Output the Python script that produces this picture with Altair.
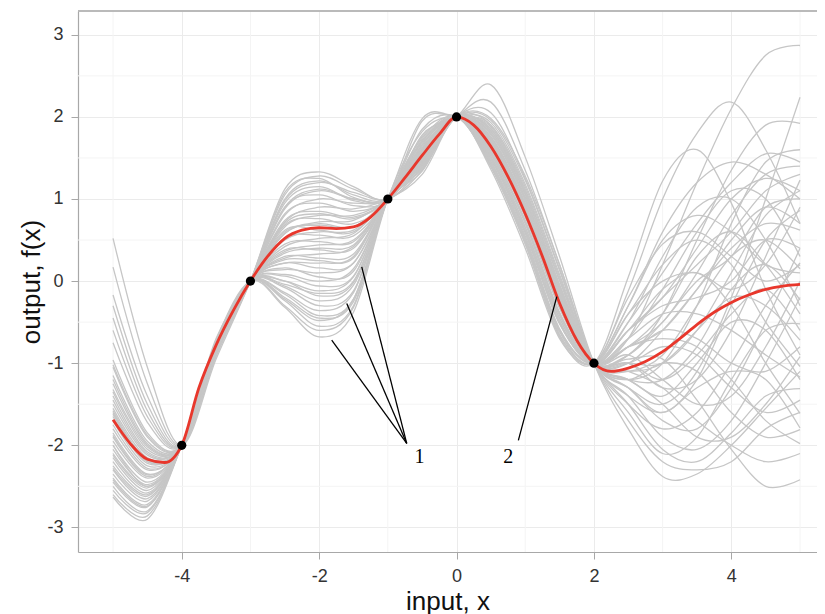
import altair as alt
import pandas as pd

# ---------------- data ----------------
x_grid = [-5.0, -4.5, -4.0, -3.5, -3.0, -2.5, -2.0, -1.5, -1.0, -0.5, 0.0,
          0.5, 1.0, 1.5, 2.0, 2.5, 3.0, 3.5, 4.0, 4.5, 5.0]

obs_x = [-4.0, -3.0, -1.0, 0.0, 2.0]
obs_y = [-2.0, 0.0, 1.0, 2.0, -1.0]

mean_x = [-5.0, -4.75, -4.5, -4.25, -4.0, -3.75, -3.5, -3.25, -3.0, -2.75, -2.5,
          -2.25, -2.0, -1.75, -1.5, -1.25, -1.0, -0.75, -0.5, -0.25, 0.0,
          0.25, 0.5, 0.75, 1.0, 1.25, 1.5, 1.75, 2.0, 2.25, 2.5,
          2.75, 3.0, 3.25, 3.5, 3.75, 4.0, 4.25, 4.5, 4.75, 5.0]
mean_y = [-1.69, -1.98, -2.17, -2.21, -2.0, -1.3, -0.78, -0.36, 0.0, 0.3, 0.52,
          0.62, 0.65, 0.64, 0.66, 0.78, 1.0, 1.26, 1.53, 1.79, 2.0,
          1.9, 1.64, 1.27, 0.82, 0.3, -0.27, -0.72, -1.0, -1.1, -1.06,
          -0.98, -0.86, -0.7, -0.53, -0.38, -0.26, -0.17, -0.1, -0.06, -0.04]

# sample values at x = -5, -4.5, -3.5
left_seg = [
    (0.52, -1.05, -0.95), (0.17, -1.25, -0.92), (-0.17, -1.4, -0.9), (-0.3, -1.5, -0.88),
    (-0.6, -1.65, -0.86), (-0.75, -1.72, -0.85), (-0.96, -1.85, -0.84), (-1.05, -1.9, -0.8),
    (-1.15, -1.95, -0.83), (-1.25, -2.0, -0.82), (-1.32, -2.02, -0.78), (-1.4, -2.08, -0.84),
    (-1.45, -2.1, -0.8), (-1.5, -2.12, -0.86), (-1.55, -2.15, -0.76), (-1.6, -2.2, -0.82),
    (-1.65, -2.22, -0.88), (-1.7, -2.25, -0.8), (-1.75, -2.28, -0.78), (-1.8, -2.3, -0.85),
    (-1.85, -2.35, -0.8), (-1.9, -2.38, -0.9), (-1.95, -2.4, -0.75), (-2.0, -2.45, -0.82),
    (-2.05, -2.48, -0.8), (-2.1, -2.5, -0.86), (-2.15, -2.55, -0.78), (-2.2, -2.58, -0.84),
    (-2.25, -2.6, -0.8), (-2.3, -2.65, -0.76), (-2.35, -2.68, -0.82), (-2.4, -2.72, -0.85),
    (-2.45, -2.75, -0.8), (-2.5, -2.8, -0.78), (-2.55, -2.82, -0.74), (-2.6, -2.86, -0.8),
    (-2.63, -2.9, -0.77), (-1.35, -2.05, -0.9), (-1.62, -2.2, -0.72), (-2.0, -2.5, -0.7),
    (-1.2, -1.98, -0.8), (-1.88, -2.36, -0.84), (-2.28, -2.62, -0.79), (-0.45, -1.58, -0.87),
    (-1.58, -2.18, -0.81), (-2.42, -2.74, -0.83), (-1.02, -1.88, -0.86), (-2.12, -2.52, -0.8),
]

# sample values at x = -2.5, -2, -1.5
mid_seg = [
    (1.12, 1.33, 1.15), (1.05, 1.28, 1.12), (1.08, 1.25, 1.02), (0.98, 1.2, 1.08),
    (0.95, 1.15, 0.98), (0.88, 1.1, 1.0), (0.9, 1.05, 0.92), (0.8, 1.0, 0.95),
    (0.82, 0.95, 0.85), (0.72, 0.9, 0.88), (0.74, 0.85, 0.78), (0.66, 0.8, 0.8),
    (0.68, 0.76, 0.7), (0.58, 0.72, 0.74), (0.6, 0.68, 0.66), (0.5, 0.6, 0.62),
    (0.52, 0.56, 0.55), (0.42, 0.52, 0.58), (0.45, 0.48, 0.48), (0.36, 0.44, 0.5),
    (0.38, 0.38, 0.4), (0.28, 0.33, 0.42), (0.3, 0.28, 0.33), (0.22, 0.22, 0.3),
    (0.22, 0.16, 0.22), (0.14, 0.1, 0.22), (0.16, 0.05, 0.12), (0.08, 0.0, 0.15),
    (0.06, -0.06, 0.06), (0.0, -0.12, 0.05), (0.0, -0.18, -0.02), (-0.06, -0.24, -0.05),
    (-0.08, -0.3, -0.12), (-0.14, -0.36, -0.14), (-0.16, -0.42, -0.22), (-0.22, -0.48, -0.22),
    (-0.24, -0.55, -0.3), (-0.3, -0.6, -0.32), (-0.32, -0.68, -0.38), (0.58, 0.7, 0.66),
    (1.0, 1.22, 1.05), (0.7, 0.82, 0.76), (0.34, 0.4, 0.44), (-0.04, -0.15, 0.0),
    (0.9, 1.12, 1.0), (0.26, 0.25, 0.28), (-0.2, -0.45, -0.25), (0.62, 0.62, 0.6),
]

# sample values at x = -0.5
near_zero = [1.55, 1.4, 1.7, 1.35, 1.62, 1.5, 1.78, 1.45, 1.58, 1.3,
             1.66, 1.52, 1.95, 1.42, 1.6, 1.48, 1.72, 1.38, 1.56, 1.64,
             1.46, 1.85, 1.5, 1.34, 1.68, 1.54, 1.44, 1.76, 1.6, 1.4,
             1.52, 1.98, 1.58, 1.36, 1.7, 1.47, 1.62, 1.5, 1.82, 1.43,
             1.5, 1.66, 1.42, 1.74, 1.56, 1.38, 1.6, 1.48]

# sample values at x = 0.5, 1, 1.5
post_peak = [
    (1.5, 0.6, -0.5), (1.42, 0.5, -0.62), (1.39, 0.46, -0.68), (1.9, 1.15, 0.05),
    (1.72, 0.9, -0.2), (1.8, 1.0, -0.1), (2.39, 1.51, 0.3), (1.66, 0.84, -0.27),
    (2.18, 1.35, 0.2), (1.76, 0.95, -0.15), (1.55, 0.66, -0.45), (1.62, 0.78, -0.33),
    (1.88, 1.1, 0.0), (1.7, 0.88, -0.22), (1.46, 0.55, -0.58), (1.96, 1.23, 0.13),
    (1.68, 0.86, -0.25), (1.83, 1.05, -0.05), (1.52, 0.62, -0.5), (1.74, 0.92, -0.18),
    (2.05, 1.25, 0.15), (1.44, 0.52, -0.6), (1.64, 0.82, -0.3), (1.58, 0.74, -0.38),
    (1.85, 1.06, -0.06), (1.48, 0.6, -0.52), (1.78, 0.98, -0.12), (1.93, 1.18, 0.08),
    (1.6, 0.8, -0.3), (1.75, 0.94, -0.16), (1.56, 0.7, -0.42), (1.9, 1.12, 0.02),
    (1.4, 0.48, -0.65), (1.82, 1.02, -0.08), (1.7, 0.87, -0.24), (1.54, 0.65, -0.46),
    (1.86, 1.08, -0.04), (1.65, 0.84, -0.28), (1.8, 1.0, -0.12), (1.5, 0.58, -0.52),
    (1.36, 0.4, -0.7), (1.45, 0.52, -0.6), (1.58, 0.72, -0.4), (1.4, 0.45, -0.66),
    (1.62, 0.8, -0.32), (1.98, 1.28, 0.2), (1.5, 0.6, -0.5), (1.72, 0.9, -0.22),
]

# sample values at x = 2.5, 3, 3.5, 4, 4.5, 5
tail_seg = [
    (-0.7, 0.2, 1.2, 2.1, 2.75, 2.87), (-0.12, 1.0, 1.8, 2.18, 1.6, 0.7),
    (0.05, 1.22, 1.6, 0.95, -0.1, -0.9), (-1.3, -1.5, -1.1, -0.2, 1.0, 2.24),
    (-0.9, -0.4, 0.5, 1.35, 1.9, 1.92), (-1.2, -1.0, -0.3, 0.7, 1.45, 1.6),
    (-1.8, -2.38, -2.35, -2.0, -1.55, -1.1), (-0.95, -0.95, -1.45, -2.05, -2.5, -2.42),
    (-1.4, -1.9, -2.05, -1.7, -1.0, -0.2), (-1.1, -1.3, -1.7, -2.0, -2.2, -2.1),
    (-0.6, -0.2, 0.4, 1.0, 1.25, 1.1), (-0.8, -0.5, 0.1, 0.8, 1.3, 1.4),
    (-1.3, -1.6, -1.2, -0.3, 0.5, 0.86), (-1.0, -0.6, -0.1, 0.4, 0.7, 0.62),
    (-0.5, 0.3, 0.9, 1.0, 0.5, -0.3), (-1.5, -1.8, -1.6, -1.0, -0.3, 0.22),
    (-0.9, -1.2, -1.5, -1.4, -0.8, 0.0), (-1.2, -1.5, -1.9, -1.9, -1.5, -0.92),
    (-0.7, -0.1, 0.6, 1.1, 1.0, 0.3), (-1.0, -0.8, -0.9, -1.3, -1.6, -1.45),
    (-1.6, -2.1, -1.9, -1.2, -0.6, -0.52), (-0.4, 0.2, 0.5, 0.2, -0.5, -1.04),
    (-1.1, -1.0, -0.6, -0.2, -0.3, -0.72), (-0.8, -0.7, -0.8, -1.2, -1.7, -1.98),
    (-1.3, -1.7, -1.8, -1.3, -0.5, 0.4), (-0.6, -0.1, 0.1, -0.3, -1.0, -1.61),
    (-1.0, -1.3, -1.2, -0.6, 0.3, 1.23), (-1.4, -1.6, -1.3, -1.1, -1.2, -1.79),
    (-0.9, -0.6, -0.7, -1.0, -1.1, -0.8), (-1.2, -1.2, -0.8, -0.1, 0.2, -0.23),
    (-0.7, -0.4, -0.4, -0.6, -0.9, -1.17), (-1.5, -2.05, -2.2, -1.85, -1.4, -1.31),
    (-0.3, 0.5, 0.8, 0.6, 0.2, 0.1), (-1.1, -0.9, -0.3, 0.3, 0.5, 0.15),
    (-1.0, -1.2, -0.9, -0.4, -0.1, -0.6), (-0.8, -0.4, 0.3, 0.6, 0.2, -0.4),
    (-1.2, -1.4, -1.0, -0.5, -0.6, -1.2), (-0.9, -0.5, 0.0, 0.3, 0.9, 1.0),
    (-1.2, -1.0, -1.1, -1.6, -1.9, -1.81), (-0.6, -0.3, -0.2, 0.0, 0.5, 0.4),
    (-0.3, 0.6, 1.2, 1.45, 1.3, 1.0), (-0.5, 0.1, 0.7, 1.2, 1.55, 1.45),
    (-0.6, -0.2, 0.2, 0.6, 1.1, 1.3), (-0.2, 0.45, 0.6, 0.3, 0.0, 0.2),
    (-0.8, -0.6, -0.1, 0.5, 0.9, 0.7), (-1.7, -2.2, -2.3, -2.2, -1.8, -1.6),
    (-0.4, 0.0, 0.1, -0.1, 0.2, 0.9), (-1.0, -1.0, -0.6, 0.1, 0.8, 1.1),
]

x_ticks = [-4, -2, 0, 2, 4]
y_ticks = [-3, -2, -1, 0, 1, 2, 3]
minor_x = [-5, -3, -1, 1, 3, 5]
minor_y = [-2.5, -1.5, -0.5, 0.5, 1.5, 2.5]

# annotation pointer segments (data coordinates)
ann_x = [-1.817, -1.598, -1.380, 0.900]
ann_y = [-0.719, -0.272, 0.174, -1.940]
ann_x2 = [-0.725, -0.725, -0.725, 1.459]
ann_y2 = [-1.977, -1.977, -1.977, -0.190]
label_text = ["1", "2"]
label_x = [-0.54, 0.754]
label_y = [-2.14, -2.14]

# ---------------- tables ----------------
obs = dict(zip(obs_x, obs_y))
rows = []
for i in range(len(left_seg)):
    vals = {
        -5.0: left_seg[i][0], -4.5: left_seg[i][1], -3.5: left_seg[i][2],
        -2.5: mid_seg[i][0], -2.0: mid_seg[i][1], -1.5: mid_seg[i][2],
        -0.5: near_zero[i],
        0.5: post_peak[i][0], 1.0: post_peak[i][1], 1.5: post_peak[i][2],
    }
    for k, xv in enumerate([2.5, 3.0, 3.5, 4.0, 4.5, 5.0]):
        vals[xv] = tail_seg[i][k]
    vals.update(obs)
    for xv in x_grid:
        rows.append({"s": i, "x": xv, "y": vals[xv]})
samples = pd.DataFrame(rows)
mean_df = pd.DataFrame({"x": mean_x, "y": mean_y})
obs_df = pd.DataFrame({"x": obs_x, "y": obs_y})
ann_df = pd.DataFrame({"x": ann_x, "y": ann_y, "x2": ann_x2, "y2": ann_y2})
lab_df = pd.DataFrame({"t": label_text, "x": label_x, "y": label_y})
mx_df = pd.DataFrame({"x": minor_x})
my_df = pd.DataFrame({"y": minor_y})

# ---------------- chart ----------------
W, H = 739, 541
xs = alt.Scale(domain=[-5.51, 5.247], nice=False, zero=False)
ys = alt.Scale(domain=[-3.30, 3.29], nice=False, zero=False)

FONT = "Liberation Sans"
axis_common = dict(
    grid=True, gridColor="#ebebeb", gridWidth=1,
    domainColor="#a8a8a8", domainWidth=1.2,
    tickColor="#a8a8a8", tickSize=7, tickWidth=1,
    labelFont=FONT, labelFontSize=18, labelColor="#333333", labelPadding=8,
    labelExpr="'' + datum.value",
    titleFont=FONT, titleFontSize=26, titleColor="#111111", titleFontWeight="normal",
)
XAX = alt.Axis(values=x_ticks, title="input, x", titlePadding=3, **axis_common)
YAX = alt.Axis(values=y_ticks, title="output, f(x)", titlePadding=2, **axis_common)


def X(field="x:Q"):
    return alt.X(field, scale=xs, axis=XAX)


def Y(field="y:Q"):
    return alt.Y(field, scale=ys, axis=YAX)


minor_v = alt.Chart(mx_df).mark_rule(color="#f4f4f4", strokeWidth=1).encode(x=X())
minor_h = alt.Chart(my_df).mark_rule(color="#f4f4f4", strokeWidth=1).encode(y=Y())

gray = alt.Chart(samples).mark_line(
    interpolate="cardinal", color="#c6c6c6", strokeWidth=1.3
).encode(x=X(), y=Y(), detail="s:N", order="x:Q")

red = alt.Chart(mean_df).mark_line(
    interpolate="monotone", color="#e8372c", strokeWidth=2.8
).encode(x=X(), y=Y(), order="x:Q")

pts = alt.Chart(obs_df).mark_circle(color="black", opacity=1, size=85).encode(x=X(), y=Y())

ann = alt.Chart(ann_df).mark_rule(color="black", strokeWidth=1.3).encode(
    x=X(), y=Y(), x2="x2:Q", y2="y2:Q")

labs = alt.Chart(lab_df).mark_text(
    font="Liberation Serif", fontSize=20, color="black", align="center", baseline="middle"
).encode(x=X(), y=Y(), text="t:N")

top_line = alt.Chart(obs_df).mark_rule(color="#b8b8b8", strokeWidth=1.2).encode(
    y=alt.value(0), x=alt.value(0), x2=alt.value(W))

chart = alt.layer(minor_v, minor_h, gray, red, pts, ann, labs, top_line).properties(
    width=W, height=H,
    autosize=alt.AutoSizeParams(type="none"),
    padding={"left": 70, "top": 3, "right": 0, "bottom": 62},
).configure_view(stroke=None)

chart.save("out.html", embed_options={"renderer": "svg", "actions": False})
